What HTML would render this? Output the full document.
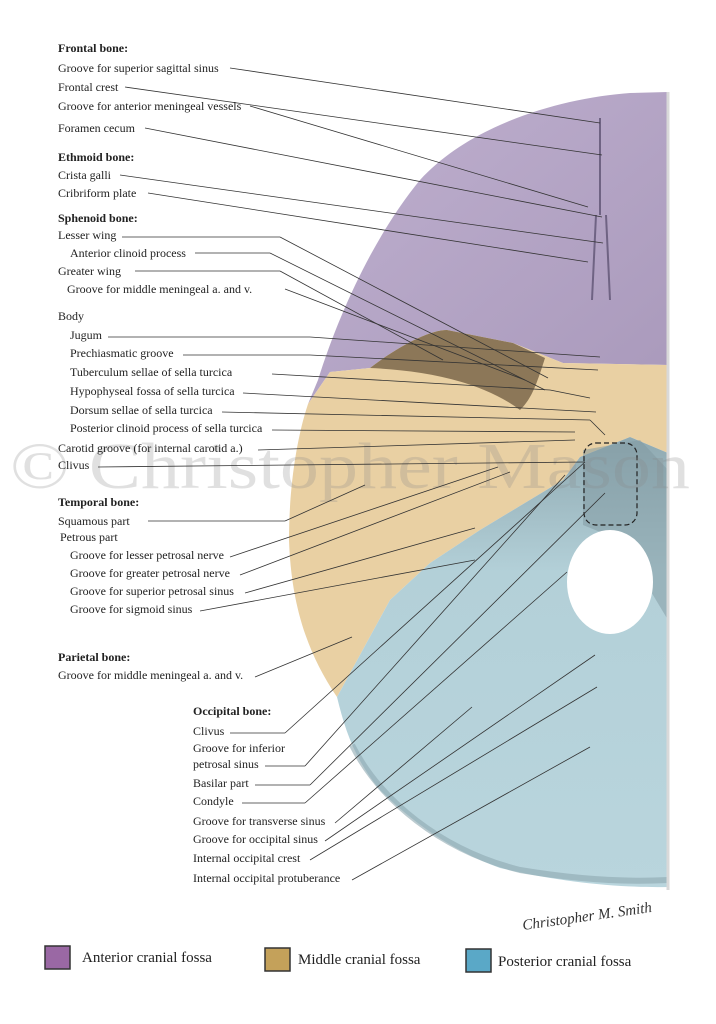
<!DOCTYPE html>
<html><head><meta charset="utf-8"><style>
html,body{margin:0;padding:0;background:#fff;}
svg{display:block;}
text{font-family:"Liberation Serif",serif;font-size:12px;fill:#222;}
.b{font-weight:bold;}
</style></head><body>
<svg width="716" height="1024" viewBox="0 0 716 1024" xmlns="http://www.w3.org/2000/svg">
<defs>
<linearGradient id="pg" x1="0" y1="0" x2="1" y2="1"><stop offset="0" stop-color="#bfb0cf"/><stop offset="1" stop-color="#a999bb"/></linearGradient>
<linearGradient id="bg" x1="0" y1="0" x2="0" y2="1"><stop offset="0" stop-color="#8fa9b1"/><stop offset="0.3" stop-color="#b3d0d8"/><stop offset="1" stop-color="#b9d5dd"/></linearGradient>
</defs>
<path d="M668,92 L630,93 C560,98 470,125 420,180 C375,235 340,310 318,380 L308,404 L330,372 L370,368 C400,345 430,330 447,330 L513,343 L563,363 L668,365 Z" fill="url(#pg)"/>
<path d="M308,404 C296,440 289,490 289,540 C291,600 305,650 337,697 L390,600 L430,563 L480,530 L563,480 L580,457 L630,437 L668,453 L668,365 L563,363 L513,343 L447,330 C430,330 400,345 370,368 L330,372 Z" fill="#e9d0a3"/>
<path d="M370,368 C400,345 430,330 447,330 L513,343 L545,358 C535,390 530,400 520,410 C480,380 420,370 370,368 Z" fill="#8c7758"/>
<path d="M337,697 C345,730 355,760 380,790 C410,820 450,850 500,868 C560,882 620,888 668,887 L668,453 L630,437 L580,457 L563,480 L480,530 L430,563 L390,600 Z" fill="url(#bg)"/>
<path d="M583,450 L640,440 L668,470 L668,620 L620,540 L583,525 Z" fill="#7f989f" opacity="0.5"/>
<path d="M352,745 C380,800 440,850 520,870 C580,880 630,882 668,880" fill="none" stroke="#8ea9b0" stroke-width="6" opacity="0.6"/>
<ellipse cx="610" cy="582" rx="43" ry="52" fill="#fff"/>
<path d="M600,118 L600,215 M596,215 L592,300 M606,215 L610,300" stroke="#6f6383" stroke-width="2" fill="none"/>
<path d="M668,92 L668,890" stroke="#d9d9d9" stroke-width="3"/>
<rect x="584" y="443" width="53" height="82" rx="12" fill="none" stroke="#222" stroke-width="1.2" stroke-dasharray="5,3"/>
<text x="10" y="488" textLength="680" lengthAdjust="spacingAndGlyphs" style="font-size:66px;fill:#888;opacity:0.25">© Christopher Mason</text>
<g stroke="#333" stroke-width="0.8" fill="none">
<line x1="230" y1="68" x2="600" y2="123"/>
<line x1="125" y1="87" x2="602" y2="155"/>
<line x1="250" y1="106" x2="588" y2="207"/>
<line x1="145" y1="128" x2="602" y2="217"/>
<line x1="120" y1="175" x2="603" y2="243"/>
<line x1="148" y1="193" x2="588" y2="262"/>
<line x1="122" y1="237" x2="280" y2="237"/><line x1="280" y1="237" x2="548" y2="378"/>
<line x1="195" y1="253" x2="270" y2="253"/><line x1="270" y1="253" x2="545" y2="390"/>
<line x1="135" y1="271" x2="280" y2="271"/><line x1="280" y1="271" x2="443" y2="360"/>
<line x1="285" y1="289" x2="525" y2="380"/>
<line x1="108" y1="337" x2="310" y2="337"/><line x1="310" y1="337" x2="600" y2="357"/>
<line x1="183" y1="355" x2="310" y2="355"/><line x1="310" y1="355" x2="598" y2="370"/>
<line x1="272" y1="374" x2="550" y2="390"/><line x1="550" y1="390" x2="590" y2="398"/>
<line x1="243" y1="393" x2="596" y2="412"/>
<line x1="222" y1="412" x2="590" y2="420"/><line x1="590" y1="420" x2="605" y2="435"/>
<line x1="272" y1="430" x2="575" y2="432"/>
<line x1="258" y1="450" x2="575" y2="440"/>
<line x1="98" y1="467" x2="585" y2="462"/>
<line x1="148" y1="521" x2="285" y2="521"/><line x1="285" y1="521" x2="365" y2="485"/>
<line x1="230" y1="557" x2="498" y2="467"/>
<line x1="240" y1="575" x2="510" y2="472"/>
<line x1="245" y1="593" x2="475" y2="528"/>
<line x1="200" y1="611" x2="475" y2="560"/>
<line x1="255" y1="677" x2="352" y2="637"/>
<line x1="230" y1="733" x2="285" y2="733"/><line x1="285" y1="733" x2="585" y2="462"/>
<line x1="265" y1="766" x2="305" y2="766"/><line x1="305" y1="766" x2="565" y2="475"/>
<line x1="255" y1="785" x2="310" y2="785"/><line x1="310" y1="785" x2="605" y2="493"/>
<line x1="242" y1="803" x2="305" y2="803"/><line x1="305" y1="803" x2="567" y2="572"/>
<line x1="335" y1="823" x2="472" y2="707"/>
<line x1="325" y1="841" x2="595" y2="655"/>
<line x1="310" y1="860" x2="597" y2="687"/>
<line x1="352" y1="880" x2="590" y2="747"/>
</g>
<text x="58" y="52" class="b">Frontal bone:</text>
<text x="58" y="72">Groove for superior sagittal sinus</text>
<text x="58" y="91">Frontal crest</text>
<text x="58" y="110">Groove for anterior meningeal vessels</text>
<text x="58" y="132">Foramen cecum</text>
<text x="58" y="161" class="b">Ethmoid bone:</text>
<text x="58" y="179">Crista galli</text>
<text x="58" y="197">Cribriform plate</text>
<text x="58" y="222" class="b">Sphenoid bone:</text>
<text x="58" y="239">Lesser wing</text>
<text x="70" y="257">Anterior clinoid process</text>
<text x="58" y="275">Greater wing</text>
<text x="67" y="293">Groove for middle meningeal a. and v.</text>
<text x="58" y="320">Body</text>
<text x="70" y="339">Jugum</text>
<text x="70" y="357">Prechiasmatic groove</text>
<text x="70" y="376">Tuberculum sellae of sella turcica</text>
<text x="70" y="395">Hypophyseal fossa of sella turcica</text>
<text x="70" y="414">Dorsum sellae of sella turcica</text>
<text x="70" y="432">Posterior clinoid process of sella turcica</text>
<text x="58" y="452">Carotid groove (for internal carotid a.)</text>
<text x="58" y="469">Clivus</text>
<text x="58" y="506" class="b">Temporal bone:</text>
<text x="58" y="525">Squamous part</text>
<text x="60" y="541">Petrous part</text>
<text x="70" y="559">Groove for lesser petrosal nerve</text>
<text x="70" y="577">Groove for greater petrosal nerve</text>
<text x="70" y="595">Groove for superior petrosal sinus</text>
<text x="70" y="613">Groove for sigmoid sinus</text>
<text x="58" y="661" class="b">Parietal bone:</text>
<text x="58" y="679">Groove for middle meningeal a. and v.</text>
<text x="193" y="715" class="b">Occipital bone:</text>
<text x="193" y="735">Clivus</text>
<text x="193" y="752">Groove for inferior</text>
<text x="193" y="768">petrosal sinus</text>
<text x="193" y="787">Basilar part</text>
<text x="193" y="805">Condyle</text>
<text x="193" y="825">Groove for transverse sinus</text>
<text x="193" y="843">Groove for occipital sinus</text>
<text x="193" y="862">Internal occipital crest</text>
<text x="193" y="882">Internal occipital protuberance</text>
<text x="522" y="922" style="font-size:15px;font-style:italic;fill:#333" transform="rotate(-8 580 918)">Christopher M. Smith</text>
<rect x="45" y="946" width="25" height="23" fill="#9a68a4" stroke="#333" stroke-width="1.5"/>
<text x="82" y="962" style="font-size:15px">Anterior cranial fossa</text>
<rect x="265" y="948" width="25" height="23" fill="#c4a15a" stroke="#333" stroke-width="1.5"/>
<text x="298" y="964" style="font-size:15px">Middle cranial fossa</text>
<rect x="466" y="949" width="25" height="23" fill="#5aa8c7" stroke="#333" stroke-width="1.5"/>
<text x="498" y="966" style="font-size:15px">Posterior cranial fossa</text>
</svg>
</body></html>
